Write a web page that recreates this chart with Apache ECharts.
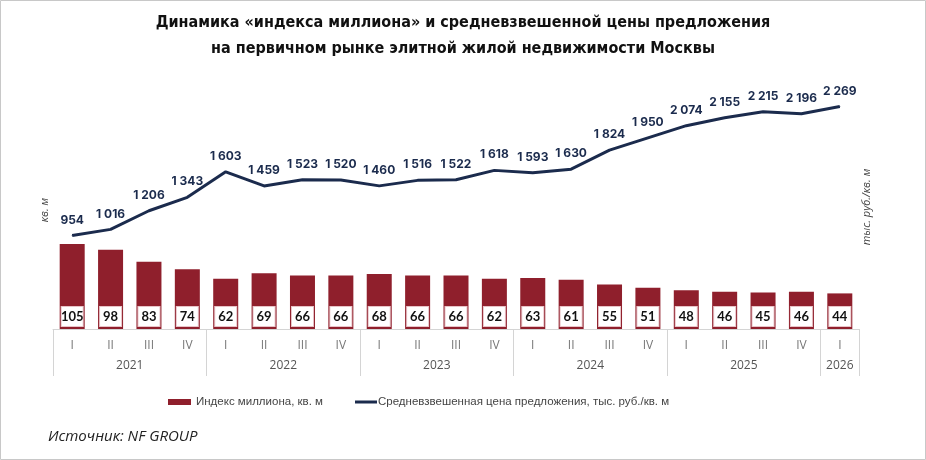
<!DOCTYPE html>
<html>
<head>
<meta charset="utf-8">
<script src="https://cdn.jsdelivr.net/npm/echarts@6/dist/echarts.min.js"></script>
<style>
  html, body { margin: 0; padding: 0; background: #fff; }
  #chart { width: 926px; height: 460px; }
</style>
</head>
<body>
<div id="chart"></div>
<script>
// кварталы и годы
var quarters = ['I','II','III','IV','I','II','III','IV','I','II','III','IV','I','II','III','IV','I','II','III','IV','I'];
var years = ['2021','2022','2023','2024','2025','2026'];
var yearCenters = [2, 6, 10, 14, 18, 20.5];
var yearBounds = [0, 4, 8, 12, 16, 20, 21];

// индекс миллиона, кв. м
var millionIndex = [105, 98, 83, 74, 62, 69, 66, 66, 68, 66, 66, 62, 63, 61, 55, 51, 48, 46, 45, 46, 44];
// средневзвешенная цена, тыс. руб./кв. м
var avgPrice = [954, 1016, 1206, 1343, 1603, 1459, 1523, 1520, 1460, 1516, 1522, 1618, 1593, 1630, 1824, 1950, 2074, 2155, 2215, 2196, 2269];

var barName = 'Индекс миллиона, кв. м';
var lineName = 'Средневзвешенная цена предложения, тыс. руб./кв. м';

function fmt(v) {
  return String(v).replace(/\B(?=(\d{3})+(?!\d))/g, ' ');
}

var chart = echarts.init(document.getElementById('chart'));
var option = {
  animation: false,
  title: {
    text: 'Динамика «индекса миллиона» и средневзвешенной цены предложения\nна первичном рынке элитной жилой недвижимости Москвы',
    left: 'center',
    top: 5,
    textStyle: {
      fontFamily: 'DejaVu Sans Condensed',
      fontWeight: 'bold',
      fontSize: 16,
      lineHeight: 26,
      color: '#111'
    }
  },
  graphic: [
    {
      type: 'rect',
      shape: { x: 0.5, y: 0.5, width: 925, height: 459 },
      style: { fill: 'none', stroke: '#c8c8c8', lineWidth: 1 },
      silent: true
    },
    {
      type: 'text',
      left: 48,
      top: 429,
      style: {
        text: 'Источник: NF GROUP',
        font: 'italic 15px "Open Sans"',
        fill: '#222'
      }
    }
  ],
  legend: [
    {
      data: [barName],
      left: 163,
      top: 391,
      itemWidth: 23,
      itemHeight: 6,
      itemGap: 5,
      icon: 'rect',
      textStyle: { fontSize: 11.5, color: '#444', fontFamily: 'Liberation Sans' }
    },
    {
      data: [lineName],
      left: 350,
      top: 391,
      itemWidth: 22,
      itemHeight: 3,
      icon: 'rect',
      textStyle: { fontSize: 11.5, color: '#444', fontFamily: 'Liberation Sans', padding: [0, 0, 0, -4] }
    }
  ],
  grid: { left: 53, right: 67, top: 79, bottom: 131 },
  xAxis: [
    {
      type: 'category',
      data: quarters,
      axisLine: { lineStyle: { color: '#d4d4d4' } },
      axisTick: { show: false },
      axisLabel: { color: '#777', fontSize: 12, margin: 11, fontFamily: 'Open Sans', interval: 0 }
    },
    {
      type: 'value',
      min: 0,
      max: 21,
      position: 'bottom',
      offset: 0,
      splitLine: { show: false },
      axisLine: { show: false },
      axisTick: {
        show: true,
        customValues: yearBounds,
        length: 47,
        lineStyle: { color: '#d4d4d4' }
      },
      axisLabel: {
        customValues: yearCenters,
        margin: 31,
        color: '#555',
        fontSize: 12,
        fontFamily: 'Open Sans',
        formatter: function (v) {
          var i = yearCenters.indexOf(v);
          return i >= 0 ? years[i] : '';
        }
      }
    }
  ],
  yAxis: [
    {
      type: 'value',
      min: 0,
      max: 309,
      axisLine: { show: false },
      axisTick: { show: false },
      axisLabel: { show: false },
      splitLine: { show: false },
      name: 'кв. м',
      nameLocation: 'middle',
      nameRotate: 90,
      nameGap: 3,
      nameTextStyle: { fontSize: 11, color: '#444', fontStyle: 'italic', fontFamily: 'Open Sans', padding: [0, 0, 0, -12] }
    },
    {
      type: 'value',
      min: 0,
      max: 2550,
      position: 'right',
      axisLine: { show: false },
      axisTick: { show: false },
      axisLabel: { show: false },
      splitLine: { show: false },
      name: 'тыс. руб./кв. м',
      nameLocation: 'middle',
      nameRotate: 90,
      nameGap: 2,
      nameTextStyle: { fontSize: 11, color: '#444', fontStyle: 'italic', fontFamily: 'Open Sans', padding: [0, 0, 0, -6] }
    }
  ],
  series: [
    {
      name: barName,
      type: 'bar',
      data: millionIndex,
      barWidth: 25,
      yAxisIndex: 0,
      xAxisIndex: 0,
      itemStyle: { color: '#8f1f2c' },
      label: {
        show: true,
        position: 'insideBottom',
        distance: 3,
        width: 21,
        align: 'center',
        backgroundColor: '#fff',
        borderColor: '#e8c4c8',
        borderWidth: 1,
        padding: [3, 0, 3, 0],
        color: '#111',
        fontWeight: 'bold',
        fontSize: 13,
        fontFamily: 'Lato'
      }
    },
    {
      name: lineName,
      type: 'line',
      data: avgPrice,
      yAxisIndex: 1,
      xAxisIndex: 0,
      symbol: 'circle',
      symbolSize: 1,
      lineStyle: { color: '#1b2b4d', width: 3 },
      itemStyle: { color: '#1b2b4d' },
      label: {
        show: true,
        position: 'top',
        distance: 9,
        color: '#1b2b4d',
        fontWeight: 'bold',
        fontSize: 12,
        fontFamily: 'Inter',
        formatter: function (p) { return fmt(p.value); }
      }
    }
  ]
};
chart.setOption(option);
</script>
</body>
</html>
